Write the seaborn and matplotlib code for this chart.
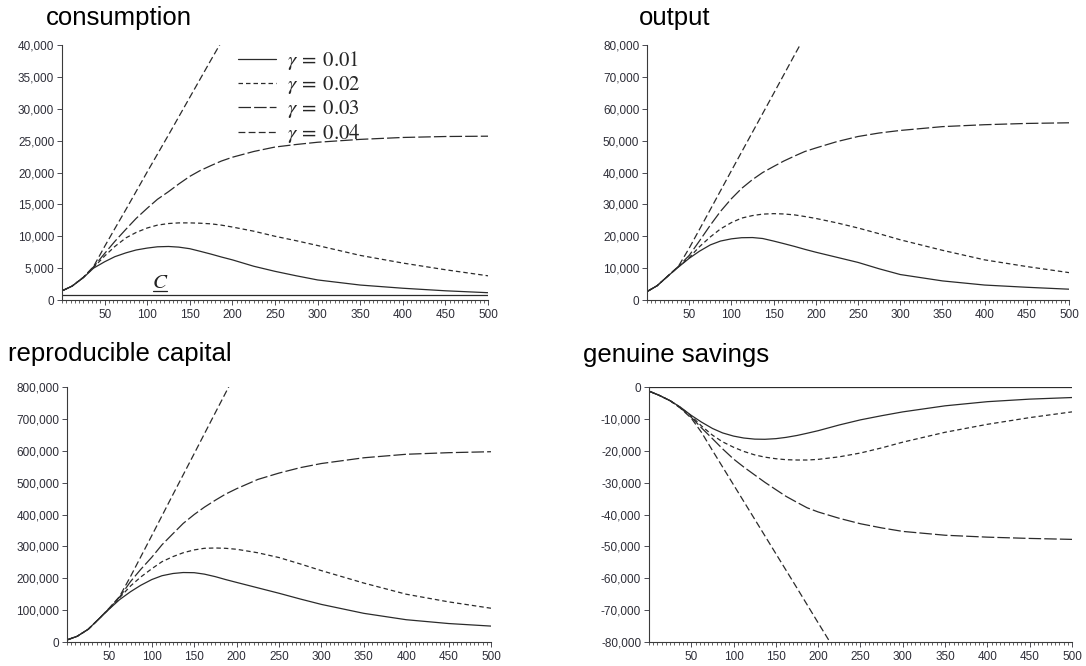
import seaborn as sns
import matplotlib.pyplot as plt
from matplotlib.ticker import MultipleLocator, FuncFormatter

# time grid (years); the explosive gamma=0.04 path leaves the frame early
t = [1, 12, 25, 37, 50, 62, 75, 87, 100, 112, 125, 137, 150, 162, 175, 187,
     200, 225, 250, 275, 300, 350, 400, 450, 500]
t_fast = [1, 12, 25, 37, 50, 62, 75, 100, 125, 150, 175, 200, 225]

gammas = ["0.01", "0.02", "0.03", "0.04"]

# consumption
cons_01 = [1500, 2200, 3500, 5000, 6000, 6800, 7400, 7850, 8150, 8350, 8400, 8300, 8050,
           7650, 7200, 6750, 6300, 5300, 4500, 3800, 3150, 2350, 1850, 1450, 1150]
cons_02 = [1500, 2200, 3550, 5100, 6900, 8400, 9750, 10600, 11300, 11750, 12000, 12100, 12100,
           12050, 11950, 11750, 11450, 10800, 10000, 9300, 8550, 7000, 5800, 4750, 3800]
cons_03 = [1500, 2200, 3550, 5200, 7300, 9200, 11100, 12800, 14400, 15800, 17000, 18200, 19400,
           20300, 21100, 21800, 22400, 23300, 24000, 24400, 24750, 25200, 25500, 25650, 25700]
cons_04 = [1500, 2200, 3550, 5250, 8400, 11200, 14200, 20100, 25900, 31800, 37700, 43500, 49400]
c_bar = 800

# output
out_01 = [2800, 4500, 7600, 10300, 13100, 15300, 17300, 18500, 19200, 19550, 19600, 19300, 18500,
          17700, 16800, 15900, 15000, 13400, 11800, 9800, 8000, 6000, 4700, 4000, 3400]
out_02 = [2800, 4500, 7600, 10400, 13300, 16700, 19800, 22300, 24300, 25700, 26500, 26950, 27100,
          27000, 26700, 26200, 25600, 24200, 22600, 20800, 18900, 15600, 12600, 10500, 8600]
out_03 = [2800, 4500, 7600, 10500, 14000, 18500, 23500, 27800, 31800, 35000, 37800, 40000, 41900,
          43600, 45200, 46600, 47700, 49700, 51300, 52400, 53200, 54400, 55000, 55400, 55600]
out_04 = [2800, 4500, 7600, 10500, 16300, 22100, 28400, 40600, 52700, 64800, 77000, 89000, 101000]

# reproducible capital
cap_01 = [7500, 18000, 40000, 71000, 104000, 133000, 158000, 178000, 196000, 208000, 215000,
          218000, 217500, 213000, 205000, 196000, 187000, 170000, 153000, 135000, 118000,
          90000, 70000, 58000, 50000]
cap_02 = [7500, 18000, 40000, 71000, 105000, 139000, 176000, 204000, 230000, 252000, 268000,
          280000, 289000, 294000, 295000, 294000, 291000, 280000, 265000, 245000, 224000,
          185000, 150000, 126000, 106000]
cap_03 = [7500, 18000, 40000, 71000, 106000, 141000, 190000, 228000, 266000, 305000, 340000,
          372000, 400000, 423000, 445000, 464000, 481000, 510000, 530000, 547000, 560000,
          578000, 589000, 594000, 597000]
cap_04 = [7500, 18000, 40000, 71000, 107000, 143000, 206000, 334000, 463000, 591000, 720000,
          848000, 976000]

# genuine savings
gs_01 = [-1400, -2600, -4300, -6300, -8900, -11000, -13000, -14400, -15400, -16000, -16350,
         -16400, -16200, -15800, -15200, -14500, -13700, -11900, -10300, -9000, -7800,
         -5900, -4600, -3800, -3300]
gs_02 = [-1400, -2600, -4300, -6400, -9100, -12200, -15100, -17200, -18900, -20200, -21300,
         -22000, -22500, -22800, -22900, -22900, -22700, -21900, -20700, -19100, -17300,
         -14200, -11700, -9600, -7800]
gs_03 = [-1400, -2600, -4300, -6500, -9500, -12800, -16200, -19400, -22600, -25100, -27600,
         -29900, -32200, -34300, -36200, -37900, -39200, -41200, -42900, -44200, -45300,
         -46500, -47100, -47500, -47800]
gs_04 = [-1400, -2600, -4300, -6600, -9800, -14200, -19900, -30700, -41500, -52300, -63100,
         -74000, -84800]

sns.set_style("ticks")
plt.rcParams["font.family"] = ["Liberation Sans", "DejaVu Sans"]
plt.rcParams["mathtext.fontset"] = "stix"

line_color = "#2b2b2b"
styles = ["-", (0, (3.6, 2.4)), (0, (10, 2.5)), (0, (5.5, 2.6))]

fig = plt.figure(figsize=(10.86, 6.66), dpi=100)

panels = [
    ("consumption", [0.0571, 0.5495, 0.3923, 0.3829], [cons_01, cons_02, cons_03, cons_04], (0, 40000), 5000, (0.0425, 0.9625)),
    ("output", [0.5958, 0.5495, 0.3886, 0.3829], [out_01, out_02, out_03, out_04], (0, 80000), 10000, (0.588, 0.9625)),
    ("reproducible capital", [0.0617, 0.0360, 0.3904, 0.3829], [cap_01, cap_02, cap_03, cap_04], (0, 800000), 100000, (0.0078, 0.458)),
    ("genuine savings", [0.5976, 0.0360, 0.3895, 0.3829], [gs_01, gs_02, gs_03, gs_04], (-80000, 0), 10000, (0.5365, 0.457)),
]

fmt = FuncFormatter(lambda v, pos: f"{int(round(v)):,}")

for i, (name, rect, series, ylim, ystep, title_xy) in enumerate(panels):
    ax = fig.add_axes(rect)
    for g, y, ls in zip(gammas, series, styles):
        xs = t if len(y) == len(t) else t_fast
        kw = {"label": rf"$\gamma\:=\:{g}$"} if i == 0 else {}
        sns.lineplot(x=xs, y=y, ax=ax, color=line_color, linewidth=0.9,
                     linestyle=ls, **kw)

    ax.set_xlim(0, 500)
    ax.set_ylim(*ylim)
    ax.xaxis.set_major_locator(MultipleLocator(50))
    ax.xaxis.set_minor_locator(MultipleLocator(5))
    ax.yaxis.set_major_locator(MultipleLocator(ystep))
    ax.yaxis.set_major_formatter(fmt)
    ax.set_xticks([v for v in range(50, 501, 50)])
    ax.tick_params(axis="both", which="major", direction="out", length=3.6,
                   width=0.6, labelsize=8.5, colors="#2e2e38", pad=2)
    ax.tick_params(axis="x", which="minor", direction="out", length=2.2, width=0.5)
    ax.tick_params(axis="x", which="major", pad=3)
    sns.despine(ax=ax)
    for sp in ("left", "bottom"):
        ax.spines[sp].set_linewidth(0.8)
        ax.spines[sp].set_color("#3a3a3a")
    ax.set_xlabel("")
    ax.set_ylabel("")

    fig.text(title_xy[0], title_xy[1], name, fontsize=18.5, ha="left",
             va="baseline", color="black")

    if i == 0:
        ax.axhline(c_bar, color=line_color, linewidth=0.9)
        ax.text(115, 2700, r"$C$", fontsize=15, ha="center", va="center",
                color="#222222")
        ax.plot([107, 123], [1450, 1450], color="#222222", linewidth=0.9)
        ax.legend(loc="upper left", bbox_to_anchor=(0.412, 0.985), frameon=False,
                  fontsize=15, handlelength=1.87, handletextpad=0.5,
                  labelspacing=0.1, borderpad=0, borderaxespad=0)
    if i == 3:
        ax.axhline(0, color=line_color, linewidth=0.9)

fig.savefig("out.png", dpi=100)
